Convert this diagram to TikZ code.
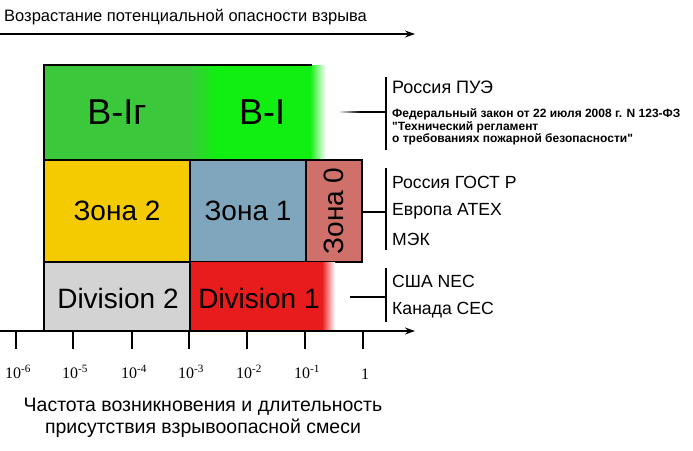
\documentclass[tikz,border=0pt]{standalone}
\usepackage{fontspec}
\setmainfont{Liberation Sans}
\newfontfamily\qfont[Ligatures=ResetAll]{Liberation Sans}
\newfontfamily\serifnum{Liberation Serif}
\usetikzlibrary{arrows.meta}
\definecolor{gA}{HTML}{3BC93B}
\definecolor{gB}{HTML}{11EE11}
\definecolor{yel}{HTML}{F4CB00}
\definecolor{blu}{HTML}{80A6BD}
\definecolor{pnk}{HTML}{CF706B}
\definecolor{gry}{HTML}{D3D3D3}
\definecolor{rd}{HTML}{E81C1C}
\tikzset{lbl/.style={font=\fontsize{28}{28}\selectfont},
 big/.style={font=\fontsize{36}{36}\selectfont},
 std/.style={anchor=west,font=\fontsize{17.6}{20}\selectfont,inner sep=0},
 tick/.style={font=\serifnum\fontsize{16}{16}\selectfont},
 arr/.style={line width=1.3pt,-{Stealth[length=10pt,width=7pt]}}}
\newcommand{\qq}{{\qfont"}}
\begin{document}
\begin{tikzpicture}[x=1pt,y=-1pt]
\useasboundingbox (0,0) rectangle (693,450);
% row 1
\fill[gA] (44,65) rectangle (190,160);
\shade[left color=gA,right color=gB] (190,65) rectangle (215,160);
\fill[gB] (215,65) rectangle (310,160);
\shade[left color=gB,right color=white] (310,65) rectangle (326,160);
\draw[line width=1.3pt] (44,160) -- (44,65) -- (312,65);
\node[big] (b1) at (117,112) {В-Iг};
\node[big] (b2) at (262,112) {В-I};
% row 2
\draw[line width=1.3pt,fill=yel] (44,160) rectangle (190,262);
\draw[line width=1.3pt,fill=blu] (190,160) rectangle (306,262);
\draw[line width=1.3pt,fill=pnk] (306,160) rectangle (362,262);
\node[lbl] (z2) at (117,211) {Зона 2};
\node[lbl] (z1) at (248,211) {Зона 1};
\node[lbl,rotate=90] (z0) at (334,211) {Зона 0};
% row 3
\fill[rd] (190,262) rectangle (322,331);
\shade[left color=rd,right color=white] (322,262) rectangle (335,331);
\draw[line width=1.3pt,fill=gry] (44,262) rectangle (190,331);
\draw[line width=1.3pt] (190,262) -- (190,331);
\node[lbl] (d2) at (118,298) {Division 2};
\node[lbl] (d1) at (259,298) {Division 1};
% axis
\coordinate (a0) at (0,331); \coordinate (a1) at (415,331);
\draw[arr] (a0) -- (a1);
\foreach \x/\t in {16/-6,73/-5,132/-4,189/-3,247/-2,305/-1}{
  \draw[line width=1.3pt] (\x,331) -- (\x,349);
  \node[tick] at (\x+2,372) {10\textsuperscript{\t}};
}
\draw[line width=1.3pt] (363,331) -- (363,349);
\node[tick] (one) at (365,374) {1};
\node[font=\fontsize{19.5}{22}\selectfont,align=center] (xl) at (203,418) {Частота возникновения и длительность\\присутствия взрывоопасной смеси};
% top arrow
\coordinate (t0) at (0,34); \coordinate (t1) at (415,34);
\draw[arr] (t0) -- (t1);
\node[anchor=west,inner sep=0,font=\fontsize{16.5}{16}\selectfont] (tl) at (4,17) {Возрастание потенциальной опасности взрыва};
% brackets
\draw[line width=1.3pt] (386,77) -- (386,150);
\shade[left color=white,right color=black] (338,111.3) rectangle (360,112.7);
\draw[line width=1.3pt] (360,112) -- (386,112);
\node[std,font=\fontsize{18}{20}\selectfont] (p1) at (392,87) {Россия ПУЭ};
\node[anchor=west,inner sep=0,align=left,font=\bfseries\fontsize{12}{12.5}\selectfont] (p2) at (392,127) {Федеральный закон от 22 июля 2008 г. N 123-ФЗ\\\qq Технический регламент\\о требованиях пожарной безопасности\qq};
\draw[line width=1.3pt] (386,168) -- (386,250);
\draw[line width=1.3pt] (362,212) -- (386,212);
\node[std] (r1) at (392,182) {Россия ГОСТ Р};
\node[std] (r2) at (392,211) {Европа ATEX};
\node[std] (r3) at (392,239) {МЭК};
\draw[line width=1.3pt] (386,268) -- (386,322);
\draw[line width=1.3pt] (350,297) -- (386,297);
\node[std] (u1) at (392,281) {США NEC};
\node[std] (u2) at (392,310) {Канада CEC};
\end{tikzpicture}
\end{document}
